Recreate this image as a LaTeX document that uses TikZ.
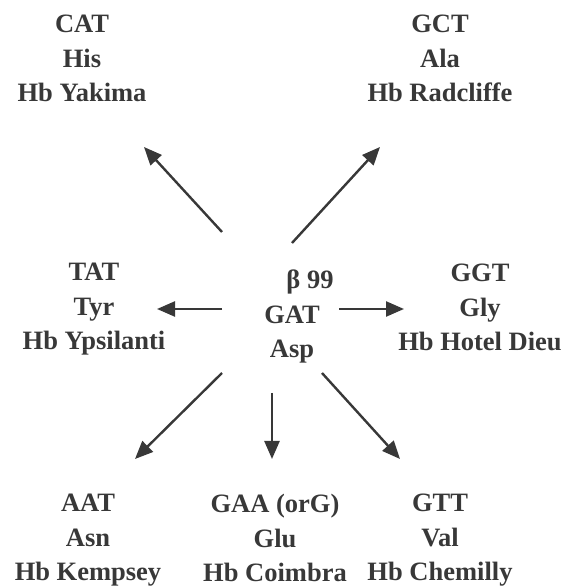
\documentclass[tikz,border=0pt]{standalone}
\usepackage{fontspec}
\setmainfont{Liberation Serif}
\usepackage{tikz}
\usetikzlibrary{calc,arrows.meta}

\definecolor{inkgray}{HTML}{383838}

\tikzset{
  codon/.style={anchor=north, inner sep=0pt, align=center, text=inkgray,
    font=\fontsize{26.5}{34.5}\selectfont\bfseries},
  mut/.style={draw=inkgray, line width=2.4pt, -{Triangle[length=18pt,width=15pt]}}
}

\begin{document}
\begin{tikzpicture}[x=1pt,y=1pt]
  \useasboundingbox (0,0) rectangle (571,587);

  % wild type in the middle, variants around it
  \node[codon] (asp) at (292,317) {\hspace*{36pt}β 99\\GAT\\Asp};

  \node[codon] (his) at (82,572)  {CAT\\His\\Hb Yakima};
  \node[codon] (ala) at (440,572) {GCT\\Ala\\Hb Radcliffe};
  \node[codon] (tyr) at (94,324)  {TAT\\Tyr\\Hb Ypsilanti};
  \node[codon] (gly) at (480,323) {GGT\\Gly\\Hb Hotel Dieu};
  \node[codon] (asn) at (88,93)   {AAT\\Asn\\Hb Kempsey};
  \node[codon] (glu) at (275,93)  {GAA (orG)\\Glu\\Hb Coimbra};
  \node[codon] (val) at (440,93)  {GTT\\Val\\Hb Chemilly};

  \path ($(asp.north)+(-70,38)$)   edge[mut] ($(his.north)+(62,-132)$)
        ($(asp.north)+(0,27)$)     edge[mut] ($(ala.north)+(-60,-132)$)
        ($(asp.north)+(-70,-39)$)  edge[mut] ($(tyr.north)+(63,-46)$)
        ($(asp.north)+(47,-39)$)   edge[mut] ($(gly.north)+(-76,-45)$)
        ($(asp.north)+(-70,-103)$) edge[mut] ($(asn.north)+(47,35)$)
        ($(asp.north)+(-20,-123)$) edge[mut] ($(glu.north)+(-3,35)$)
        ($(asp.north)+(30,-103)$)  edge[mut] ($(val.north)+(-40,35)$);
\end{tikzpicture}
\end{document}
